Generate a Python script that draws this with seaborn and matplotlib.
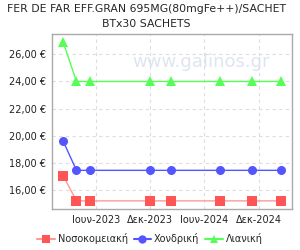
import matplotlib
matplotlib.use("Agg")
import matplotlib.pyplot as plt
import pandas as pd
import seaborn as sns

# values
dates = ["2023-02-10", "2023-03-27", "2023-05-12", "2023-12-01",
         "2024-02-10", "2024-07-25", "2024-11-07", "2025-02-13"]
hospital = [17.05, 15.2, 15.2, 15.2, 15.2, 15.2, 15.2, 15.2]
wholesale = [19.6, 17.45, 17.45, 17.45, 17.45, 17.45, 17.45, 17.45]
retail = [26.9, 24.0, 24.0, 24.0, 24.0, 24.0, 24.0, 24.0]
series_names = ["Νοσοκομειακή", "Χονδρική", "Λιανική"]
tick_dates = ["2023-06-01", "2023-12-01", "2024-06-01", "2024-12-01"]
tick_labels = ["Ιουν-2023", "Δεκ-2023", "Ιουν-2024", "Δεκ-2024"]
y_ticks = [16, 18, 20, 22, 24, 26]

df = pd.DataFrame({
    "date": pd.to_datetime(dates * 3),
    "price": hospital + wholesale + retail,
    "kind": [series_names[0]] * 8 + [series_names[1]] * 8 + [series_names[2]] * 8,
})

sns.set_style("white")
plt.rcParams["font.family"] = ["DejaVu Sans"]

fig = plt.figure(figsize=(3, 2.5), dpi=100)
ax = fig.add_axes([0.173, 0.164, 0.8, 0.70])

palette = {series_names[0]: "#ff5555", series_names[1]: "#5555ff", series_names[2]: "#55ff55"}
sns.lineplot(data=df, x="date", y="price", hue="kind", style="kind",
             markers={series_names[0]: "s", series_names[1]: "o", series_names[2]: "^"},
             dashes=False, palette=palette, markersize=6.5, markeredgewidth=0,
             linewidth=1, ax=ax, legend=False)
# hospital line is drawn lighter than its markers
ax.lines[0].set_color("#ff9999")
ax.lines[0].set_markerfacecolor("#ff5555")

ax.set_xlim(pd.Timestamp("2023-01-03"), pd.Timestamp("2025-03-23"))
ax.set_ylim(14.6, 27.5)
ax.set_xticks(pd.to_datetime(tick_dates))
ax.set_xticklabels(tick_labels)
ax.set_yticks(y_ticks)
ax.set_yticklabels([f"{v:.2f} €".replace(".", ",") for v in y_ticks])
ax.tick_params(length=0, labelsize=7, pad=4, colors="#222222")
ax.set_xlabel("")
ax.set_ylabel("")
ax.grid(True, linestyle=(0, (3, 3)), color="#dddddd", linewidth=0.8)
for s in ax.spines.values():
    s.set_color("#aaaaaa")
    s.set_linewidth(1)

ax.text(0.62, 0.84, "www.galinos.gr", transform=ax.transAxes, ha="center", va="center",
        fontsize=13, color="#c8d4e6", alpha=0.6, zorder=0)

fig.text(0.487, 0.962, "FER DE FAR EFF.GRAN 695MG(80mgFe++)/SACHET", ha="center",
         va="center", fontsize=7.8)
fig.text(0.487, 0.905, "BTx30 SACHETS", ha="center", va="center", fontsize=7.8)

handles = [plt.Line2D([], [], color="#ff9999", marker="s", markerfacecolor="#ff5555",
                      markeredgewidth=0, markersize=6),
           plt.Line2D([], [], color="#5555ff", marker="o", markeredgewidth=0, markersize=6),
           plt.Line2D([], [], color="#55ff55", marker="^", markeredgewidth=0, markersize=6)]
fig.legend(handles, series_names, loc="center", bbox_to_anchor=(0.5, 0.045), ncol=3,
           frameon=False, fontsize=7, handlelength=1.8, columnspacing=0.6,
           handletextpad=0.3)

fig.savefig("out.png", dpi=100)
